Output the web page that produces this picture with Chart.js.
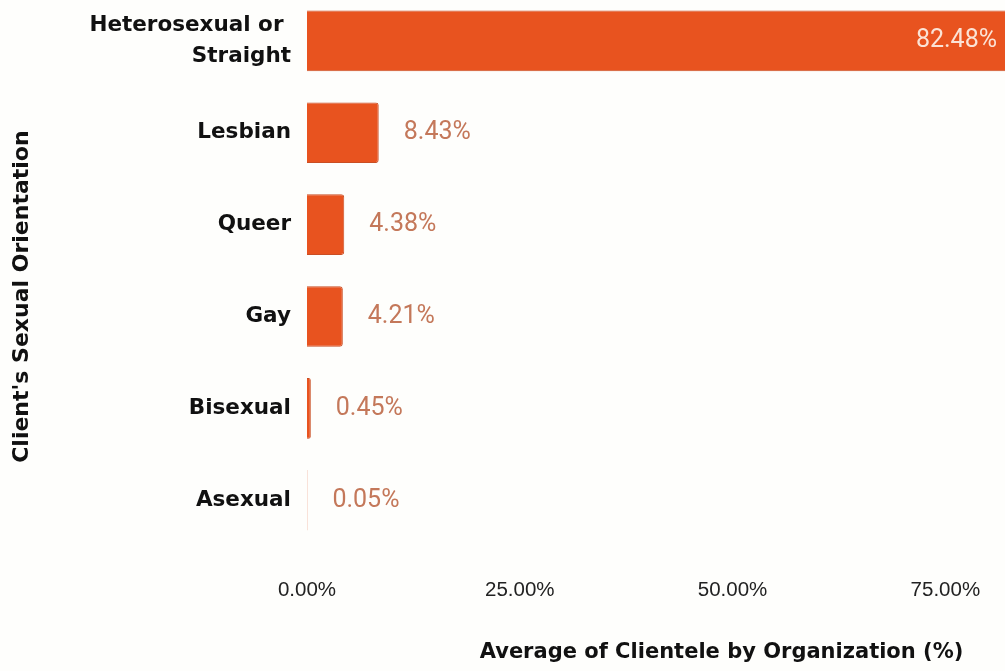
<!DOCTYPE html>
<html>
<head>
<meta charset="utf-8">
<script src="https://cdn.jsdelivr.net/npm/chart.js@4"></script>
<style>
    html, body {
        margin: 0;
        padding: 0;
        background: #fefefc;
        overflow: hidden;
    }

    #chartBox {
        position: absolute;
        left: 0;
        top: -5px;
        width: 1150px;
        height: 676px;
    }
</style>
</head>
<body>
<div id="chartBox">
    <canvas id="myChart"></canvas>
</div>
<script>
let orientations = [['Heterosexual or ', 'Straight'], 'Lesbian', 'Queer', 'Gay', 'Bisexual', 'Asexual'];
let clienteleShares = [82.48, 8.43, 4.38, 4.21, 0.45, 0.05];
let xTicks = [0, 25, 50, 75];

const barColor = '#e8531f';
const labelFont = 'DejaVu Sans';
const yTitleShift = 26;

/*Value labels next to / inside the bars*/

const valueLabels = {
    id: 'valueLabels',
    afterDatasetsDraw(chart) {
        const ctx = chart.ctx;
        const meta = chart.getDatasetMeta(0);
        ctx.save();
        ctx.font = '25px Roboto';
        ctx.textBaseline = 'middle';
        meta.data.forEach((bar, i) => {
            let value = clienteleShares[i];
            let text = value.toFixed(2) + '%';
            if (value > 50) {
                ctx.fillStyle = '#fbe3d6';
                ctx.textAlign = 'right';
                ctx.fillText(text, bar.x - 12, bar.y);
            } else {
                ctx.fillStyle = '#c4785a';
                ctx.textAlign = 'left';
                ctx.fillText(text, bar.x + 25, bar.y);
            }
        });
        ctx.restore();
    }
};

/*Left axis title sits a bit lower than the middle of the bars:
  move the scale box only while the axes are drawn*/

const shiftYTitle = {
    id: 'shiftYTitle',
    beforeDraw(chart) {
        chart.scales.y.top += yTitleShift;
        chart.scales.y.bottom += yTitleShift;
    },
    beforeDatasetsDraw(chart) {
        chart.scales.y.top -= yTitleShift;
        chart.scales.y.bottom -= yTitleShift;
    }
};


function formatPercent(value) {
    return Number(value).toFixed(2) + '%';
}


function dropLabelPadding(scale) {
    scale.paddingTop = 0;
    scale.paddingBottom = 0;
}


function setChart() {
    const ctx = document.getElementById('myChart');

    new Chart(ctx, {
        type: 'bar',
        data: {
            labels: orientations,
            datasets: [{
                data: clienteleShares,
                backgroundColor: barColor,
                borderColor: '#c94e24',
                borderWidth: 1,
                borderRadius: 3,
                borderSkipped: 'start',
                categoryPercentage: 1,
                barPercentage: 0.66
            }]
        },
        plugins: [valueLabels, shiftYTitle],
        options: {
            indexAxis: 'y',
            responsive: true,
            maintainAspectRatio: false,
            animation: false,
            devicePixelRatio: 1,
            layout: {
                padding: { left: 0, right: 14, top: 0, bottom: 0 }
            },
            plugins: {
                legend: { display: false },
                tooltip: { enabled: false }
            },
            scales: {
                x: {
                    min: 0,
                    max: 97.4,
                    afterBuildTicks: scale => {
                        scale.ticks = xTicks.map(v => ({ value: v }));
                    },
                    grid: { display: false, drawTicks: false },
                    border: { display: false },
                    ticks: {
                        padding: 32,
                        color: '#222',
                        font: { family: 'Liberation Sans', size: 20.5 },
                        callback: formatPercent
                    },
                    title: {
                        display: true,
                        text: 'Average of Clientele by Organization (%)',
                        color: '#111',
                        font: { family: labelFont, size: 21, weight: 'bold' },
                        padding: { top: 5, bottom: 6 }
                    }
                },
                y: {
                    afterFit: dropLabelPadding,
                    grid: { display: false, drawTicks: false },
                    border: { display: false },
                    ticks: {
                        padding: 16,
                        color: '#111',
                        font: { family: labelFont, size: 21.5, weight: 'bold', lineHeight: 1.4 }
                    },
                    title: {
                        display: true,
                        text: "Client's Sexual Orientation",
                        color: '#111',
                        font: { family: labelFont, size: 22, weight: 'bold' },
                        padding: { top: 9, bottom: 38 }
                    }
                }
            }
        }
    });
}

setChart();
</script>
</body>
</html>
